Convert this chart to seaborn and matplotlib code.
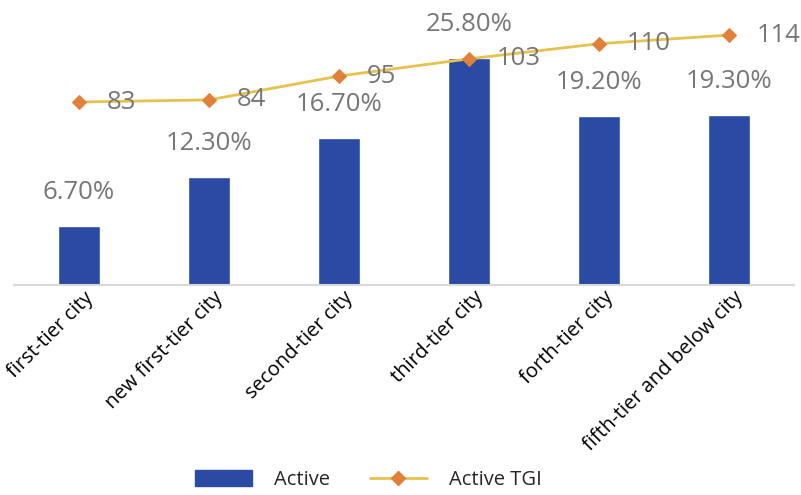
import numpy as np
import pandas as pd
import matplotlib
matplotlib.use("Agg")
import matplotlib.pyplot as plt
import matplotlib.transforms as mtransforms
from matplotlib.patches import Patch
from matplotlib.lines import Line2D
import seaborn as sns

# Data
categories = ["first-tier city", "new first-tier city", "second-tier city",
              "third-tier city", "forth-tier city", "fifth-tier and below city"]
active_pct = [6.7, 12.3, 16.7, 25.8, 19.2, 19.3]
active_tgi = [83, 84, 95, 103, 110, 114]

BAR_BLUE = "#2A4AA3"
LINE_GOLD = "#E6C24E"
MARK_ORANGE = "#E0803A"
LABEL_GRAY = "#777777"

sns.set_theme(style="white")
plt.rcParams["font.family"] = ["Open Sans", "DejaVu Sans"]

df = pd.DataFrame({"city": categories, "active": active_pct,
                   "tgi": active_tgi, "pos": np.arange(len(categories))})

fig = plt.figure(figsize=(8.01, 4.95), dpi=100)
ax = fig.add_axes([14 / 801, 1 - 285 / 495, 780 / 801, 275 / 495])

sns.barplot(data=df, x="city", y="active", color=BAR_BLUE, width=0.32,
            saturation=1, ax=ax)
ax.set_xlim(-0.5, len(categories) - 0.5)
ax.set_ylim(0, 31.25)
ax.set_xlabel("")
ax.set_ylabel("")
ax.set_yticks([])
for side in ["left", "right", "top"]:
    ax.spines[side].set_visible(False)
ax.spines["bottom"].set_color("#D9D9D9")
ax.spines["bottom"].set_linewidth(1.5)
ax.tick_params(axis="x", length=0, pad=2)
ax.set_xticks(range(len(categories)))
ax.set_xticklabels(categories, rotation=45, ha="right", rotation_mode="anchor",
                   fontsize=14.5, color="black")
shift = mtransforms.ScaledTranslation(4 / 100, 0, fig.dpi_scale_trans)
for lab in ax.get_xticklabels():
    lab.set_transform(lab.get_transform() + shift)

for i, v in enumerate(active_pct):
    ax.annotate(f"{v:.2f}%", (i, v), xytext=(0, 15), textcoords="offset points",
                ha="center", va="bottom", fontsize=18.5, color=LABEL_GRAY)

ax2 = ax.twinx()
sns.lineplot(data=df, x="pos", y="tgi", color=LINE_GOLD, linewidth=2,
             marker="D", markersize=7, markerfacecolor=MARK_ORANGE,
             markeredgecolor=MARK_ORANGE, ax=ax2)
ax2.set_ylim(-1.7, 125.6)
ax2.set_ylabel("")
ax2.set_yticks([])
ax2.set_xlabel("")
for side in ["left", "right", "top", "bottom"]:
    ax2.spines[side].set_visible(False)

for i, v in enumerate(active_tgi):
    ax2.annotate(f"{v}", (i, v), xytext=(20, 0), textcoords="offset points",
                 ha="left", va="center", fontsize=18.5, color=LABEL_GRAY)

handles = [Patch(facecolor=BAR_BLUE, edgecolor=BAR_BLUE),
           Line2D([0], [0], color=LINE_GOLD, linewidth=2, marker="D",
                  markersize=7, markerfacecolor=MARK_ORANGE,
                  markeredgecolor=MARK_ORANGE)]
fig.legend(handles, ["Active", "Active TGI"], loc="center",
           bbox_to_anchor=(0.46, 0.03), ncol=2, frameon=False, fontsize=14.5,
           handlelength=2.8, handleheight=0.8, columnspacing=2.0,
           handletextpad=1.1)

fig.savefig("out.png", dpi=100)
